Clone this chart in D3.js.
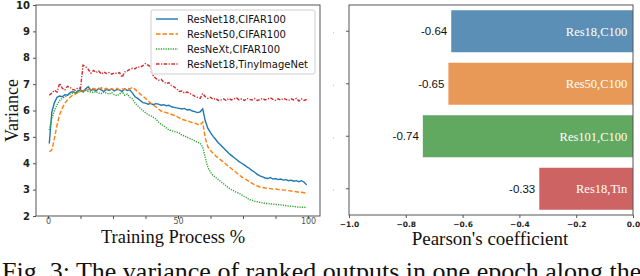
<!DOCTYPE html>
<html>
  <head>
    <meta charset="utf-8">
    <title>Variance and Pearson's coefficient</title>
    <script src="https://d3js.org/d3.v7.min.js"></script>
    <style>
      body { margin: 0; background: #fff; }
      svg { display: block; }
      .serif { font-family: "Liberation Serif", "DejaVu Serif", serif; fill: #111; }
    </style>
  </head>
  <body>
    <svg id="chart" width="640" height="276"></svg>
    <script>
      // training progress (%), one reading per point
      epochs = d3.range(100).map(function(i) { return i + 0.5; });
      res18Cifar = [4.75,5.95,6.30,6.50,6.55,6.52,6.60,6.58,6.68,6.72,6.66,6.74,6.78,6.70,6.82,6.90,6.76,6.80,6.74,6.84,
        6.78,6.72,6.80,6.76,6.82,6.74,6.80,6.78,6.72,6.82,6.76,6.78,6.66,6.52,6.46,6.38,6.30,6.28,6.24,6.27,
        6.22,6.26,6.24,6.20,6.22,6.18,6.20,6.14,6.12,6.10,6.08,6.06,6.08,6.02,6.04,5.98,5.96,5.92,5.95,6.06,
        5.60,5.32,5.16,5.02,4.90,4.78,4.68,4.58,4.48,4.38,4.30,4.22,4.14,4.06,4.00,3.94,3.86,3.80,3.72,3.66,
        3.58,3.52,3.48,3.44,3.42,3.46,3.40,3.42,3.38,3.40,3.36,3.38,3.34,3.36,3.32,3.34,3.30,3.34,3.28,3.18];
      res50Cifar = [4.44,4.50,4.95,5.45,5.85,6.08,6.28,6.40,6.50,6.58,6.62,6.68,6.72,6.76,6.74,6.80,6.78,6.84,6.80,6.82,
        6.86,6.80,6.84,6.78,6.82,6.80,6.84,6.78,6.82,6.80,6.84,6.82,6.88,6.80,6.72,6.62,6.54,6.46,6.36,6.28,
        6.20,6.14,6.06,5.98,5.95,5.92,5.88,5.85,5.82,5.78,5.72,5.66,5.64,5.60,5.58,5.54,5.52,5.48,5.45,5.56,
        4.95,4.62,4.48,4.38,4.28,4.20,4.12,4.04,3.96,3.88,3.80,3.72,3.64,3.56,3.48,3.42,3.36,3.30,3.24,3.18,
        3.14,3.10,3.08,3.06,3.05,3.04,3.02,3.03,3.00,3.01,2.98,2.98,2.96,2.95,2.94,2.92,2.90,2.90,2.88,2.86];
      resNextCifar = [5.26,5.70,6.00,6.22,6.38,6.46,6.52,6.58,6.62,6.66,6.70,6.68,6.74,6.72,6.76,6.72,6.70,6.68,6.72,6.66,
        6.64,6.70,6.66,6.62,6.68,6.60,6.56,6.62,6.72,6.58,6.62,6.50,6.44,6.28,6.18,6.08,6.00,5.92,5.84,5.80,
        5.74,5.68,5.56,5.48,5.42,5.34,5.26,5.24,5.20,5.18,5.14,5.06,5.04,4.98,4.94,4.90,4.84,4.80,4.76,4.62,
        4.20,3.84,3.66,3.54,3.46,3.38,3.30,3.22,3.14,3.06,3.00,2.95,2.90,2.86,2.80,2.74,2.68,2.62,2.60,2.56,
        2.54,2.52,2.50,2.48,2.47,2.46,2.45,2.44,2.43,2.42,2.41,2.39,2.38,2.37,2.36,2.35,2.34,2.33,2.33,2.32];
      res18Tiny = [6.58,6.66,6.77,6.70,7.03,6.84,6.78,6.92,6.88,6.80,6.77,6.86,6.84,7.72,7.66,7.56,7.42,7.52,7.44,7.50,
        7.38,7.46,7.40,7.44,7.38,7.42,7.40,7.44,7.26,7.46,7.50,7.56,7.60,7.58,7.66,7.64,7.70,7.78,7.72,7.66,
        7.30,7.22,7.15,7.18,7.08,7.02,7.06,6.94,6.90,6.82,6.72,6.74,6.66,6.70,6.64,6.60,6.54,6.50,6.46,6.64,
        6.52,6.46,6.50,6.42,6.46,6.38,6.40,6.44,6.38,6.46,6.40,6.44,6.48,6.40,6.44,6.38,6.46,6.42,6.40,6.45,
        6.38,6.42,6.46,6.40,6.44,6.48,6.42,6.38,6.44,6.40,6.46,6.42,6.38,6.44,6.40,6.46,6.36,6.44,6.38,6.42];
      lineNames = ["ResNet18,CIFAR100", "ResNet50,CIFAR100", "ResNeXt,CIFAR100", "ResNet18,TinyImageNet"];
      // pearson's coefficient per model
      barNames = ["Res18,C100", "Res50,C100", "Res101,C100", "Res18,Tin"];
      barValues = [-0.64, -0.65, -0.74, -0.33];
      varianceTicks = [2, 3, 4, 5, 6, 7, 8, 9, 10];
      progressTicks = [0, 12.5, 25, 37.5, 50, 62.5, 75, 87.5, 100];
      progressLabels = [0, 50, 100];
      pearsonTicks = [-1.0, -0.8, -0.6, -0.4, -0.2, 0.0];
      caption = "Fig. 3: The variance of ranked outputs in one epoch along the";

      chart = d3.select("#chart");
      lineColours = ["#1f77b4", "#ff7f0e", "#2ca02c", "#d62728"];
      lineDashes = [null, "4.5,2", "1.2,1.2", "3.5,1.5,1.2,1.5"];
      barColours = ["#5b8fb6", "#e89957", "#61a860", "#cd6363"];
      series = [res18Cifar, res50Cifar, resNextCifar, res18Tiny];

      // left panel: variance over training
      left = { x0: 36, x1: 320, y0: 5, y1: 216 };
      x = d3.scaleLinear().domain([-4.6, 104.6]).range([left.x0, left.x1]);
      y = d3.scaleLinear().domain([2, 10]).range([left.y1, left.y0]);
      line = d3.line()
        .x(function(d, i) { return x(epochs[i]); })
        .y(function(d) { return y(d); });

      xAxisGroup = chart.append("g")
        .attr("transform", "translate(0," + left.y1 + ")")
        .call(d3.axisBottom(x).tickValues(progressTicks).tickSize(3).tickSizeOuter(0)
          .tickFormat(function(d) { return progressLabels.indexOf(d) >= 0 ? d : ""; }));
      xAxisGroup.selectAll("text")
        .attr("y", 2)
        .style("font-family", "DejaVu Sans")
        .style("font-size", "8px")
        .style("fill", "#555");
      yAxisGroup = chart.append("g")
        .attr("transform", "translate(" + left.x0 + ",0)")
        .call(d3.axisLeft(y).tickValues(varianceTicks).tickSize(3).tickSizeOuter(0).tickPadding(3));
      yAxisGroup.selectAll("text")
        .style("font-family", "DejaVu Sans")
        .style("font-size", "10px")
        .style("font-weight", "bold")
        .style("fill", "#222");
      chart.selectAll(".domain").remove();
      chart.selectAll(".tick line").attr("stroke", "#555");

      chart.append("g").selectAll("path")
        .data(series)
        .enter().append("path")
          .attr("d", function(d) { return line(d); })
          .attr("fill", "none")
          .attr("stroke", function(d, i) { return lineColours[i]; })
          .attr("stroke-width", 1.4)
          .attr("stroke-dasharray", function(d, i) { return lineDashes[i]; });

      chart.append("rect")
        .attr("x", left.x0).attr("y", left.y0)
        .attr("width", left.x1 - left.x0).attr("height", left.y1 - left.y0)
        .attr("fill", "none").attr("stroke", "#555").attr("stroke-width", 1);

      // legend
      legend = chart.append("g").attr("transform", "translate(151,10)");
      legend.append("rect")
        .attr("width", 164).attr("height", 64).attr("rx", 2)
        .attr("fill", "#fff").attr("fill-opacity", 0.85)
        .attr("stroke", "#d0d0d0");
      legendItems = legend.selectAll(".item")
        .data(lineNames)
        .enter().append("g")
          .attr("transform", function(d, i) { return "translate(0," + (9 + i * 15) + ")"; });
      legendItems.append("line")
        .attr("x1", 5).attr("x2", 27)
        .attr("stroke", function(d, i) { return lineColours[i]; })
        .attr("stroke-width", 1.4)
        .attr("stroke-dasharray", function(d, i) { return lineDashes[i]; });
      legendItems.append("text")
        .attr("x", 36).attr("dy", "0.35em")
        .style("font-family", "DejaVu Sans")
        .style("font-size", "10px")
        .style("fill", "#111")
        .text(function(d) { return d; });

      chart.append("text").attr("class", "serif")
        .attr("transform", "translate(18," + ((left.y0 + left.y1) / 2) + ") rotate(-90)")
        .attr("text-anchor", "middle")
        .style("font-size", "18px")
        .text("Variance");
      chart.append("text").attr("class", "serif")
        .attr("x", 173).attr("y", 243)
        .attr("text-anchor", "middle")
        .style("font-size", "18.5px")
        .text("Training Process %");

      // right panel: pearson's coefficient
      right = { x0: 349, x1: 633, y0: 5, y1: 215 };
      xp = d3.scaleLinear().domain([-1, 0]).range([right.x0, right.x1]);
      yp = d3.scaleBand().domain(barNames).range([right.y0, right.y1]).paddingInner(0.2).paddingOuter(0.1);

      pAxisGroup = chart.append("g")
        .attr("transform", "translate(0," + right.y1 + ")")
        .call(d3.axisBottom(xp).tickValues(pearsonTicks).tickSize(3).tickSizeOuter(0)
          .tickFormat(d3.format(".1f")));
      pAxisGroup.selectAll("text")
        .attr("y", 7)
        .style("font-family", "DejaVu Sans")
        .style("font-size", "7.5px")
        .style("font-weight", "bold")
        .style("fill", "#222");
      cAxisGroup = chart.append("g")
        .attr("transform", "translate(" + right.x0 + ",0)")
        .call(d3.axisLeft(yp).tickSize(3).tickSizeOuter(0).tickFormat(""));
      chart.selectAll(".domain").remove();
      chart.selectAll(".tick line").attr("stroke", "#555");

      // faint marks left of the panel
      chart.append("g").selectAll("rect")
        .data(barNames)
        .enter().append("rect")
          .attr("x", 333).attr("y", function(d) { return yp(d) + yp.bandwidth() / 2 + 1; })
          .attr("width", 1).attr("height", 1)
          .attr("fill", "#bbb");

      bars = chart.append("g").selectAll("g")
        .data(barValues)
        .enter().append("g");
      bars.append("rect")
        .attr("x", function(d) { return xp(d); })
        .attr("y", function(d, i) { return yp(barNames[i]); })
        .attr("width", function(d) { return xp(0) - xp(d); })
        .attr("height", yp.bandwidth())
        .attr("fill", function(d, i) { return barColours[i]; });
      bars.append("text")
        .attr("x", function(d) { return xp(d) - 4; })
        .attr("y", function(d, i) { return yp(barNames[i]) + yp.bandwidth() / 2; })
        .attr("dy", "0.35em")
        .attr("text-anchor", "end")
        .style("font-family", "Liberation Sans")
        .style("font-size", "11.5px")
        .style("fill", "#111")
        .text(function(d) { return d3.format(".2f")(d).replace("\u2212", "-"); });
      bars.append("text")
        .attr("x", xp(-0.02))
        .attr("y", function(d, i) { return yp(barNames[i]) + yp.bandwidth() / 2; })
        .attr("dy", "0.35em")
        .attr("text-anchor", "end")
        .style("font-family", "Liberation Serif")
        .style("font-size", "12.5px")
        .style("fill", "#fff")
        .text(function(d, i) { return barNames[i]; });

      chart.append("rect")
        .attr("x", right.x0).attr("y", right.y0)
        .attr("width", right.x1 - right.x0).attr("height", right.y1 - right.y0)
        .attr("fill", "none").attr("stroke", "#555").attr("stroke-width", 1);

      chart.append("text").attr("class", "serif")
        .attr("x", 490).attr("y", 245)
        .attr("text-anchor", "middle")
        .style("font-size", "19px")
        .text("Pearson's coefficient");

      chart.append("text").attr("class", "serif")
        .attr("x", 2).attr("y", 280)
        .style("font-size", "26px")
        .text(caption);
    </script>
  </body>
</html>
